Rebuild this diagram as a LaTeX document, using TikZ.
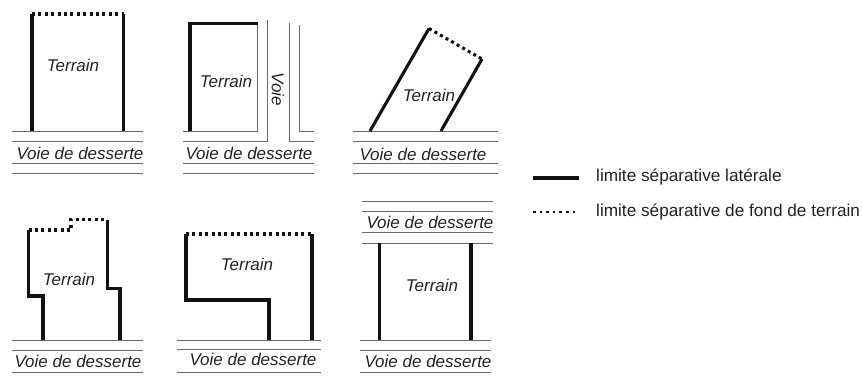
\documentclass[tikz,border=0pt]{standalone}
\usepackage{fontspec}
\setmainfont{Liberation Sans}
\definecolor{roadc}{HTML}{6A6A6A}
\definecolor{inkc}{HTML}{111111}
\definecolor{textc}{HTML}{222222}
\tikzset{
 road/.style={draw=roadc,line width=1pt},
 lateral/.style={draw=inkc,line width=3.1pt,line cap=butt,line join=miter},
 fond/.style={draw=inkc,line width=3.1pt,dash pattern=on 3pt off 3.4pt},
 fondleg/.style={draw=inkc,line width=2.4pt,dash pattern=on 2.6pt off 4pt},
 voie/.style={font=\fontsize{17}{20}\selectfont\itshape,text=textc,inner sep=0pt},
 terrain/.style={font=\fontsize{17}{20}\selectfont\itshape,text=textc,inner sep=0pt},
 legendtxt/.style={font=\fontsize{17.2}{20}\selectfont,text=textc,inner sep=0pt,anchor=west}
}
\begin{document}
\begin{tikzpicture}[x=1pt,y=-1pt]
\useasboundingbox (0,0) rectangle (862,376);
% panel 1
\foreach \y in {131,141,163,173} \draw[road] (12,\y) -- (143,\y);
\draw[lateral] (32,131) -- (32,14);
\draw[lateral] (123.5,14) -- (123.5,131);
\draw[fond] (32,14) -- (123.5,14);
\node[terrain] (t1) at (73,65) {Terrain};
\node[voie] (v1) at (80,153) {Voie de desserte};
% panel 2
\draw[road] (183,131) -- (257.5,131) -- (257.5,23);
\draw[road] (183,141) -- (267.5,141) -- (267.5,20);
\draw[road] (289.5,23) -- (289.5,141) -- (314,141);
\draw[road] (299.5,25) -- (299.5,131) -- (314,131);
\foreach \y in {163,173} \draw[road] (183,\y) -- (314,\y);
\draw[lateral] (190,131) -- (190,23.5) -- (257.5,23.5);
\node[terrain] (t2) at (226,81) {Terrain};
\node[voie,rotate=-90] (vv) at (278,89) {Voie};
\node[voie] (v2) at (249,153) {Voie de desserte};
% panel 3
\foreach \y in {131,141,163,173} \draw[road] (353,\y) -- (498,\y);
\draw[lateral] (370,131) -- (429,28.5);
\draw[lateral] (482,59) -- (441,131);
\draw[fond] (429,28.5) -- (482,59);
\node[terrain] (t3) at (429,95) {Terrain};
\node[voie] (v3) at (423,154) {Voie de desserte};
% panel 4
\foreach \y in {340,350,372} \draw[road] (12,\y) -- (143,\y);
\draw[lateral] (43,340) -- (43,296) -- (28.5,296) -- (28.5,230);
\draw[lateral] (107.5,219.5) -- (107.5,288.5) -- (120,288.5) -- (120,340);
\draw[fond] (28.5,230) -- (71,230) -- (71,219.5) -- (107.5,219.5);
\node[terrain] (t4) at (69,279) {Terrain};
\node[voie] (v4) at (78,361) {Voie de desserte};
% panel 5
\foreach \y in {340,349.5,372} \draw[road] (177,\y) -- (321,\y);
\draw[lateral] (269,340) -- (269,300) -- (186,300) -- (186,234);
\draw[lateral] (312,234) -- (312,340);
\draw[fond] (186,234) -- (312,234);
\node[terrain] (t5) at (247,264) {Terrain};
\node[voie] (v5) at (253,359) {Voie de desserte};
% panel 6
\foreach \y in {201.5,211,232.5,243} \draw[road] (362,\y) -- (493,\y);
\foreach \y in {340,350.5,372} \draw[road] (360,\y) -- (491,\y);
\draw[lateral] (379.5,243) -- (379.5,340);
\draw[lateral] (471,243) -- (471,340);
\node[voie] (v6a) at (430,222) {Voie de desserte};
\node[terrain] (t6) at (432,285) {Terrain};
\node[voie] (v6b) at (428,361) {Voie de desserte};
% legend
\coordinate (la) at (533,178);
\coordinate (lb) at (579,178);
\coordinate (lc) at (533,212);
\coordinate (ld) at (579,212);
\draw[lateral] (la) -- (lb);
\draw[fondleg] (lc) -- (ld);
\node[legendtxt] (l1) at (596,177) {limite séparative latérale};
\node[legendtxt] (l2) at (596,212) {limite séparative de fond de terrain};
\end{tikzpicture}
\end{document}
